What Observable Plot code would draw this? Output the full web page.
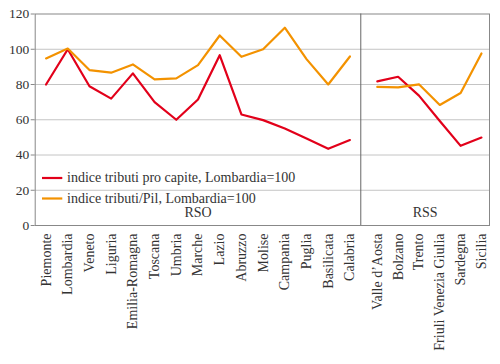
<!DOCTYPE html>
<html><head><meta charset="utf-8">
<script src="https://cdn.jsdelivr.net/npm/d3@7"></script>
<script src="https://cdn.jsdelivr.net/npm/@observablehq/plot@0.6"></script>
<style>
body{margin:0;background:#fff}
#chart svg{display:block}
#chart svg, #chart svg text{font-family:"Liberation Serif", "Times New Roman", serif !important;}
</style>
</head><body><div id="chart"></div>
<script>
// Regions
const regioniRSO = ["Piemonte","Lombardia","Veneto","Liguria","Emilia-Romagna","Toscana","Umbria","Marche","Lazio","Abruzzo","Molise","Campania","Puglia","Basilicata","Calabria"];
const regioniRSS = ["Valle d’Aosta","Bolzano","Trento","Friuli Venezia Giulia","Sardegna","Sicilia"];
// Series
const serieNomi = ["indice tributi pro capite, Lombardia=100","indice tributi/Pil, Lombardia=100"];
const proCapiteRSO = [80, 100, 79, 72, 86.3, 70, 60, 71.5, 96.6, 63, 59.8, 55, 49.3, 43.5, 48.5];
const pilRSO       = [94.8, 100.4, 88.2, 86.7, 91.4, 82.9, 83.5, 91, 107.8, 95.7, 100, 112.2, 94.4, 80, 95.9];
const proCapiteRSS = [81.8, 84.4, 73.7, 59.3, 45.2, 49.9];
const pilRSS       = [78.6, 78.4, 80.1, 68.4, 75.2, 97.6];
const gruppi = ["RSO","RSS"];
const yTicks = [0, 20, 40, 60, 80, 100, 120];
const colori = ["#e2001a", "#f39200"];

// layout of the two panels (in x units)
const rsoWidth = regioniRSO.length;
const rssWidth = 5.93, rssOffset = 0.76, rssStep = 0.96;
const posRSO = regioniRSO.map((_, i) => i + 0.5);
const posRSS = regioniRSS.map((_, i) => rsoWidth + rssOffset + i * rssStep);

const rows = [];
[[proCapiteRSO, pilRSO, regioniRSO, posRSO, "RSO"], [proCapiteRSS, pilRSS, regioniRSS, posRSS, "RSS"]].forEach(([a, b, names, pos, g]) => {
  names.forEach((n, i) => {
    rows.push({regione: n, pos: pos[i], value: a[i], serie: serieNomi[0], gruppo: g});
    rows.push({regione: n, pos: pos[i], value: b[i], serie: serieNomi[1], gruppo: g});
  });
});
const nameByPos = new Map([...posRSO.map((p, i) => [p, regioniRSO[i]]), ...posRSS.map((p, i) => [p, regioniRSS[i]])]);
const groupLabels = [{g: gruppi[0], x: rsoWidth / 2}, {g: gruppi[1], x: rsoWidth + rssWidth / 2}];

const legend = (index, scales, values, dims) => {
  const g = d3.create("svg:g");
  const x0 = dims.marginLeft, yb = dims.height - dims.marginBottom;
  serieNomi.forEach((s, i) => {
    const y = yb - 47 + i * 20.5;
    g.append("line").attr("x1", x0 + 7.3).attr("x2", x0 + 27.6).attr("y1", y).attr("y2", y)
      .attr("stroke", colori[i]).attr("stroke-width", 2.2);
    g.append("text").attr("x", x0 + 32.3).attr("y", y).attr("dy", "0.32em")
      .attr("text-anchor", "start")
      .attr("fill", "#333").attr("font-size", 14).text(s);
  });
  return g.node();
};

const chart = Plot.plot({
  width: 500, height: 364,
  marginTop: 13.5, marginBottom: 139, marginLeft: 34.7, marginRight: 11,
  style: {fontFamily: "'Liberation Serif', serif", fontSize: "13px", color: "#333", background: "#fff"},
  x: {type: "linear", domain: [0, rsoWidth + rssWidth]},
  y: {domain: [0, 120]},
  color: {domain: serieNomi, range: colori},
  marks: [
    Plot.gridY([20, 40, 60, 80, 100], {stroke: "#c4c4c4", strokeOpacity: 1}),
    Plot.frame({stroke: "#888"}),
    Plot.ruleX([rsoWidth], {stroke: "#666"}),
    Plot.line(rows, {x: "pos", y: "value", z: d => d.serie + d.gruppo, stroke: "serie", strokeWidth: 2.2}),
    Plot.axisY(yTicks, {tickSize: 4, tickPadding: 2, label: null, stroke: "#888", fontSize: 13.5}),
    Plot.axisX([...posRSO, ...posRSS], {tickFormat: d => nameByPos.get(d), tickRotate: -90, tickSize: 0, tickPadding: 8, label: null, fontSize: 14}),
    Plot.text(groupLabels, {x: "x", text: "g", frameAnchor: "bottom", dy: -9, fontSize: 14, fill: "#333"}),
    legend
  ]
});
document.getElementById("chart").append(chart);
</script>
</body></html>
